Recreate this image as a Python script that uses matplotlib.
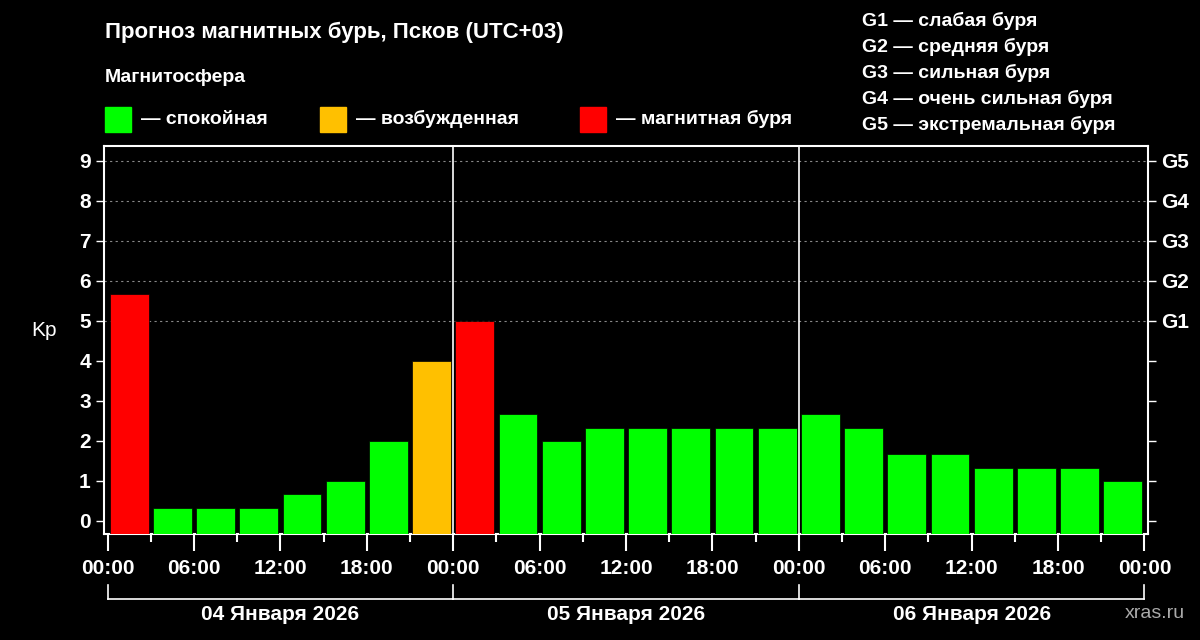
import numpy as np
import matplotlib.pyplot as plt

kp = [5.67, 0.33, 0.33, 0.33, 0.67, 1.0, 2.0, 4.0,
      5.0, 2.67, 2.0, 2.33, 2.33, 2.33, 2.33, 2.33,
      2.67, 2.33, 1.67, 1.67, 1.33, 1.33, 1.33, 1.0]
days = ["04 Января 2026", "05 Января 2026", "06 Января 2026"]
hour_labels = ["00:00", "06:00", "12:00", "18:00"] * 3 + ["00:00"]
g_labels = ["G1", "G2", "G3", "G4", "G5"]
legend_items = [("#00ff00", "— спокойная"), ("#ffc000", "— возбужденная"), ("#ff0000", "— магнитная буря")]
g_text = ["G1 — слабая буря", "G2 — средняя буря", "G3 — сильная буря",
          "G4 — очень сильная буря", "G5 — экстремальная буря"]

def color(v):
    if v >= 5:
        return "#ff0000"
    if v >= 4:
        return "#ffc000"
    return "#00ff00"

plt.rcParams['font.family'] = ['Liberation Sans', 'DejaVu Sans']
plt.rcParams['font.weight'] = 'bold'
fig = plt.figure(figsize=(12, 6.4), dpi=100, facecolor="black")
ax = fig.add_axes([0.0867, 0.166, 0.87, 0.606], facecolor="black")

ymin = -0.325
x = np.arange(len(kp)) * 3 + 1.5
ax.bar(x, np.array(kp) - ymin, bottom=ymin, width=2.7,
       color=[color(v) for v in kp], edgecolor="black", linewidth=0.5, zorder=3)
for lvl in range(5, 10):
    ax.axhline(lvl, color="#888888", linestyle=(0, (2, 3)), linewidth=0.8, zorder=1)
for d in (24, 48):
    ax.axvline(d, color="white", linewidth=1.2, zorder=4)

ax.set_xlim(-0.25, 72.25)
ax.set_ylim(ymin, 9.375)
for s in ax.spines.values():
    s.set_color("white")
    s.set_linewidth(1.5)

ax.set_xticks(np.arange(0, 73, 6))
ax.set_xticklabels(hour_labels, fontsize=15, color="white")
ax.set_xticks(np.arange(0, 73, 3), minor=True)
ax.tick_params(axis="x", which="major", length=12, width=1.5, color="white", pad=6, direction="out")
ax.tick_params(axis="x", which="minor", length=6, width=1.5, color="white")
ax.set_yticks(range(10))
ax.set_yticklabels([str(i) for i in range(10)], fontsize=15, color="white")
ax.tick_params(axis="y", length=6, width=1, color="white")
ax.set_ylabel("Kp", fontsize=15, color="white", rotation=0, labelpad=25)

ax2 = ax.twinx()
ax2.set_ylim(ax.get_ylim())
ax2.set_yticks(range(10))
ax2.set_yticklabels([""] * 5 + g_labels, fontsize=15, color="white")
ax2.tick_params(axis="y", length=6, width=1, color="white")
for s in ax2.spines.values():
    s.set_visible(False)

# day brackets
fx = lambda h: 0.0867 + 0.87 * (h + 0.25) / 72.5
for i, day in enumerate(days):
    x0, x1 = fx(24 * i), fx(24 * (i + 1))
    fig.add_artist(plt.Line2D([x0, x1], [1 - 599 / 640] * 2, color="white", lw=1.2))
    fig.text((x0 + x1) / 2, 1 - 614 / 640, day, color="white", fontsize=15, ha="center", va="center")
for i in range(4):
    fig.add_artist(plt.Line2D([fx(24 * i)] * 2, [1 - 599 / 640, 1 - 585 / 640], color="white", lw=1.2))

fig.text(1 - 15 / 1200, 1 - 614 / 640, "xras.ru", color="#aaaaaa", fontsize=14, ha="right", va="center",
         weight="normal")

fig.text(105 / 1200, 1 - 32 / 640, "Прогноз магнитных бурь, Псков (UTC+03)", color="white", fontsize=16,
         va="center")
fig.text(105 / 1200, 1 - 78 / 640, "Магнитосфера", color="white", fontsize=14, va="center")
for (c, t), px in zip(legend_items, [105, 320, 580]):
    fig.add_artist(plt.Rectangle((px / 1200, 1 - 132 / 640), 26 / 1200, 25 / 640, color=c))
    fig.text((px + 36) / 1200, 1 - 119 / 640, t, color="white", fontsize=14, va="center")
for i, t in enumerate(g_text):
    fig.text(862 / 1200, 1 - (21 + 26 * i) / 640, t, color="white", fontsize=14, va="center")

fig.savefig("out.png", dpi=100, facecolor="black")
